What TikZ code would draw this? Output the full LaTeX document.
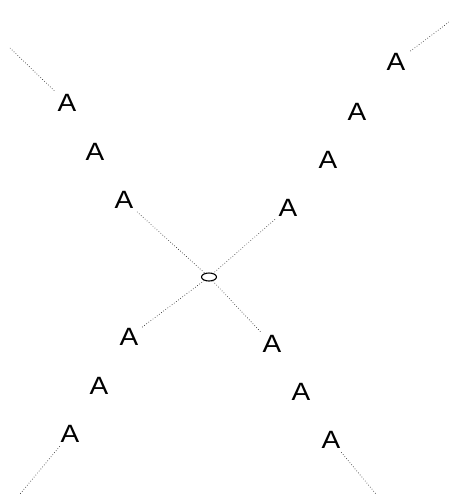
\documentclass[tikz,border=0pt]{standalone}
\usepackage{fontspec}
\setmainfont[FakeStretch=1.12]{Liberation Sans}
\usetikzlibrary{shapes.geometric}
\tikzset{lbl/.style={inner sep=3.5pt, font=\fontsize{25}{25}\selectfont},
	link/.style={dotted, line width=0.65pt, black!85}}

\begin{document}
\begin{tikzpicture}[x=1pt,y=-1pt]
	\useasboundingbox (0,0) rectangle (449,495);
	\node[draw, ellipse, line width=1.1pt, minimum width=15pt, minimum height=8pt, inner sep=0pt] (o) at (209,277) {};
	% upper left
	\node[lbl] (ul1) at (67,103) {A};
	\node[lbl] (ul2) at (95,152) {A};
	\node[lbl] (ul3) at (124,200) {A};
	% upper right
	\node[lbl] (ur1) at (396,62) {A};
	\node[lbl] (ur2) at (357,112) {A};
	\node[lbl] (ur3) at (328,160) {A};
	\node[lbl] (ur4) at (288,208) {A};
	% lower left
	\node[lbl] (ll1) at (129,337) {A};
	\node[lbl] (ll2) at (99,386) {A};
	\node[lbl] (ll3) at (70,434) {A};
	% lower right
	\node[lbl] (lr1) at (272,344) {A};
	\node[lbl] (lr2) at (301,392) {A};
	\node[lbl] (lr3) at (331,440) {A};
	\coordinate (ulend) at (10,48);
	\coordinate (urend) at (449,22);
	\coordinate (llend) at (20,494);
	\coordinate (lrend) at (376,494);
	\draw[link] (ulend) -- (ul1);
	\draw[link] (ul3) -- (o);
	\draw[link] (urend) -- (ur1);
	\draw[link] (ur4) -- (o);
	\draw[link] (o) -- (ll1);
	\draw[link] (ll3) -- (llend);
	\draw[link] (o) -- (lr1);
	\draw[link] (lr3) -- (lrend);
\end{tikzpicture}
\end{document}
